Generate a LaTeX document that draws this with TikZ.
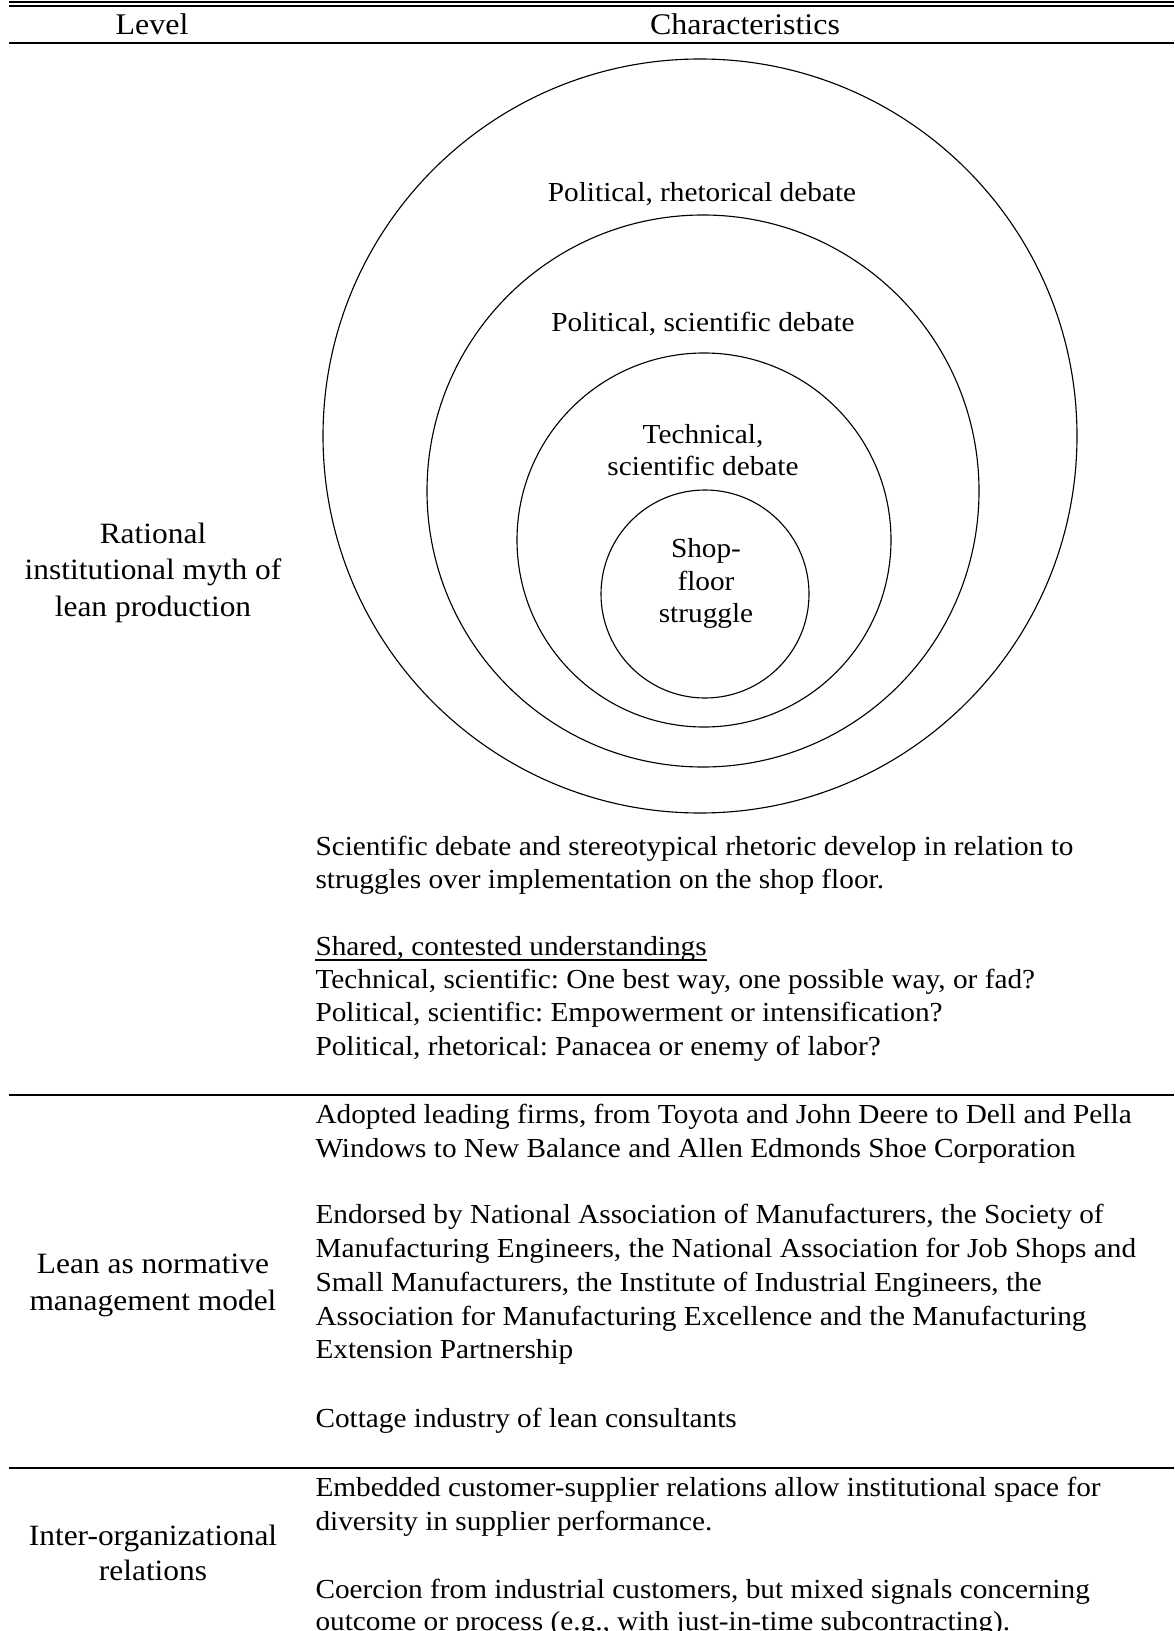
\documentclass[tikz,border=0pt]{standalone}
\usepackage{fontspec}
\setmainfont{Liberation Serif}[FakeStretch=1.065]

\newcommand\levelfont{\fontsize{11.8}{14.6}\selectfont}
\newcommand\charfont{\fontsize{11}{13.4}\selectfont}
\newcommand\ringfont{\fontsize{11}{12.8}\selectfont}

\tikzset{
    ring/.style={shape=circle,draw=black,line width=0.45pt,inner sep=0pt},
    rule/.style={line width=0.75pt},
    lvl/.style={anchor=base,inner sep=0pt,font=\levelfont},
    chr/.style={anchor=base west,inner sep=0pt,font=\charfont},
    ringlabel/.style={anchor=base,inner sep=0pt,font=\ringfont}
}

\begin{document}
\frenchspacing
\begin{tikzpicture}[x=0.4pt,y=-0.4pt]
    \clip (0,0) rectangle (1174,1631);
    % rules
    \draw[rule] (9,2) -- (1174,2);
    \draw[rule] (9,5.7) -- (1174,5.7);
    \draw[rule] (9,43.3) -- (1174,43.3);
    \draw[rule] (9,1095) -- (1174,1095);
    \draw[rule] (9,1468) -- (1174,1468);
    % header
    \node[lvl,font=\fontsize{12}{14.6}\selectfont] (level) at (152,35) {Level};
    \node[lvl,font=\fontsize{12}{14.6}\selectfont] (chars) at (745,35) {Characteristics};
    % rings
    \node[ring,minimum size=754*0.4pt] (rhetorical) at (700,436) {};
    \node[ring,minimum size=552*0.4pt] (political) at (703,491) {};
    \node[ring,minimum size=374*0.4pt] (technical) at (704,540) {};
    \node[ring,minimum size=208*0.4pt] (shopfloor) at (705,594) {};
    \node[ringlabel] (rhet) at (702,202) {Political, rhetorical debate};
    \node[ringlabel] (pols) at (703,332) {Political, scientific debate};
    \node[ringlabel] (tech1) at (703,443) {Technical,};
    \node[ringlabel] (tech2) at (703,475) {scientific debate};
    \node[ringlabel] (shop1) at (706,557) {Shop-};
    \node[ringlabel] (shop2) at (706,590) {floor};
    \node[ringlabel] (shop3) at (706,622) {struggle};
    % level: myth
    \node[lvl] (myth1) at (153,543) {Rational};
    \node[lvl] (myth2) at (153,579.5) {institutional myth of};
    \node[lvl] (myth3) at (153,616) {lean production};
    \node[chr] (debate1) at (315,855) {Scientific debate and stereotypical rhetoric develop in relation to};
    \node[chr] (debate2) at (315,888) {struggles over implementation on the shop floor.};
    \node[chr] (shared) at (315,955) {Shared, contested understandings};
    \draw[line width=0.45pt] ([yshift=-2pt]shared.base west) -- ([yshift=-2pt]shared.base east);
    \node[chr] (techq) at (315,988) {Technical, scientific: One best way, one possible way, or fad?};
    \node[chr] (polq) at (315,1021) {Political, scientific: Empowerment or intensification?};
    \node[chr] (rhetq) at (315,1055) {Political, rhetorical: Panacea or enemy of labor?};
    % level: model
    \node[lvl] (model1) at (153,1273) {Lean as normative};
    \node[lvl] (model2) at (153,1310) {management model};
    \node[chr] (adopt1) at (315,1123) {Adopted leading firms, from Toyota and John Deere to Dell and Pella};
    \node[chr] (adopt2) at (315,1157) {Windows to New Balance and Allen Edmonds Shoe Corporation};
    \node[chr] (endorse1) at (315,1223) {Endorsed by National Association of Manufacturers, the Society of};
    \node[chr] (endorse2) at (315,1257) {Manufacturing Engineers, the National Association for Job Shops and};
    \node[chr] (endorse3) at (315,1291) {Small Manufacturers, the Institute of Industrial Engineers, the};
    \node[chr] (endorse4) at (315,1325) {Association for Manufacturing Excellence and the Manufacturing};
    \node[chr] (endorse5) at (315,1358) {Extension Partnership};
    \node[chr] (cottage) at (315,1427) {Cottage industry of lean consultants};
    % level: relations
    \node[lvl] (inter1) at (153,1545) {Inter-organizational};
    \node[lvl] (inter2) at (153,1580) {relations};
    \node[chr] (embed1) at (315,1496) {Embedded customer-supplier relations allow institutional space for};
    \node[chr] (embed2) at (315,1530) {diversity in supplier performance.};
    \node[chr] (coerce1) at (315,1598) {Coercion from industrial customers, but mixed signals concerning};
    \node[chr] (coerce2) at (315,1630) {outcome or process (e.g., with just-in-time subcontracting).};
\end{tikzpicture}
\end{document}
